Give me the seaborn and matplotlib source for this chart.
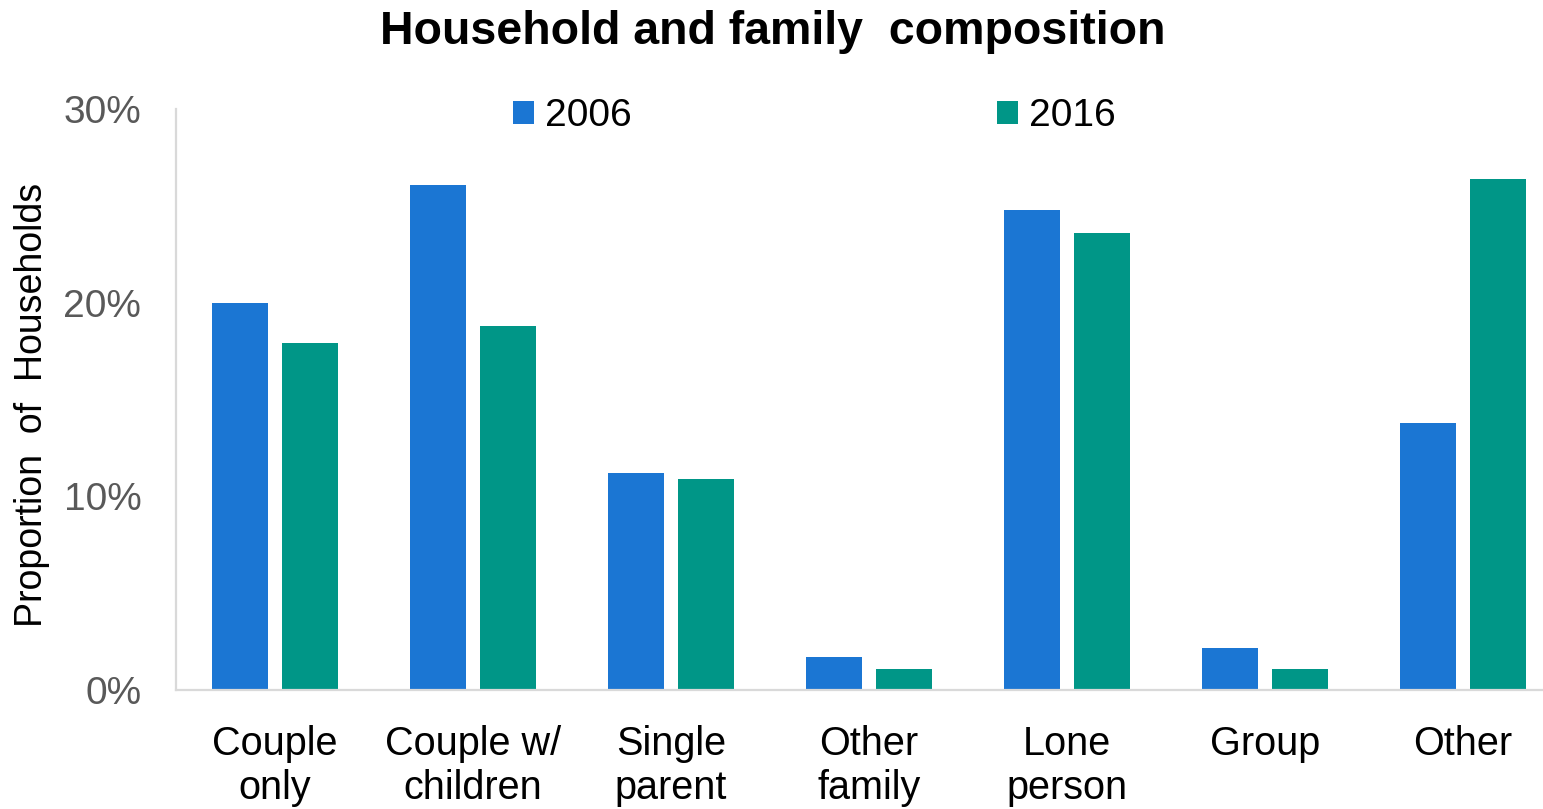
import pandas as pd
import matplotlib
matplotlib.use("Agg")
import matplotlib.pyplot as plt
import seaborn as sns
from matplotlib.ticker import PercentFormatter

categories = ["Couple\nonly", "Couple w/\nchildren", "Single\nparent", "Other\nfamily",
              "Lone\nperson", "Group", "Other"]
years = ["2006", "2016"]
share_2006 = [20.0, 26.1, 11.2, 1.7, 24.8, 2.15, 13.8]
share_2016 = [17.9, 18.8, 10.9, 1.1, 23.6, 1.1, 26.4]
colors = {"2006": "#1B76D3", "2016": "#009687"}

df = pd.DataFrame({
    "category": categories * 2,
    "year": ["2006"] * len(categories) + ["2016"] * len(categories),
    "share": share_2006 + share_2016,
})

sns.set_style("white")
plt.rcParams["font.family"] = ["Liberation Sans", "DejaVu Sans"]

fig = plt.figure(figsize=(15.43, 8.09), dpi=100)
ax = fig.add_axes([0.1141, 0.1471, 0.8982, 0.7182])

sns.barplot(data=df, x="category", y="share", hue="year", hue_order=years,
            palette=colors, saturation=1, width=0.707, gap=0.2, linewidth=0, ax=ax)

ax.set_xlim(-0.5, len(categories) - 0.5)
ax.set_ylim(0, 30)
ax.set_yticks([0, 10, 20, 30])
ax.yaxis.set_major_formatter(PercentFormatter(xmax=100, decimals=0))
ax.tick_params(axis="y", length=0, pad=25, labelsize=28, labelcolor="#595959")
ax.tick_params(axis="x", length=0, pad=25, labelsize=28.5, labelcolor="black")
for lab in ax.get_xticklabels():
    lab.set_linespacing(1.2)

sns.despine(ax=ax, top=True, right=True)
for side in ["left", "bottom"]:
    ax.spines[side].set_color("#D9D9D9")
    ax.spines[side].set_linewidth(1.6)

ax.set_xlabel("")
ax.set_ylabel("")
fig.text(0.021, 0.5, "Proportion  of  Households", rotation=90, va="center", ha="center",
         fontsize=27, color="black")
fig.text(0.501, 0.96, "Household and family  composition", ha="center", va="center",
         fontsize=33.5, fontweight="bold", color="black")

handles, labels = ax.get_legend_handles_labels()
ax.legend(handles, labels, loc="center", bbox_to_anchor=(0.528, 0.856),
          bbox_transform=fig.transFigure, ncol=2, frameon=False, fontsize=28,
          labelcolor="black", handlelength=0.52, handleheight=0.52,
          handletextpad=0.3, columnspacing=9.4)

fig.savefig("out.png", dpi=100)
